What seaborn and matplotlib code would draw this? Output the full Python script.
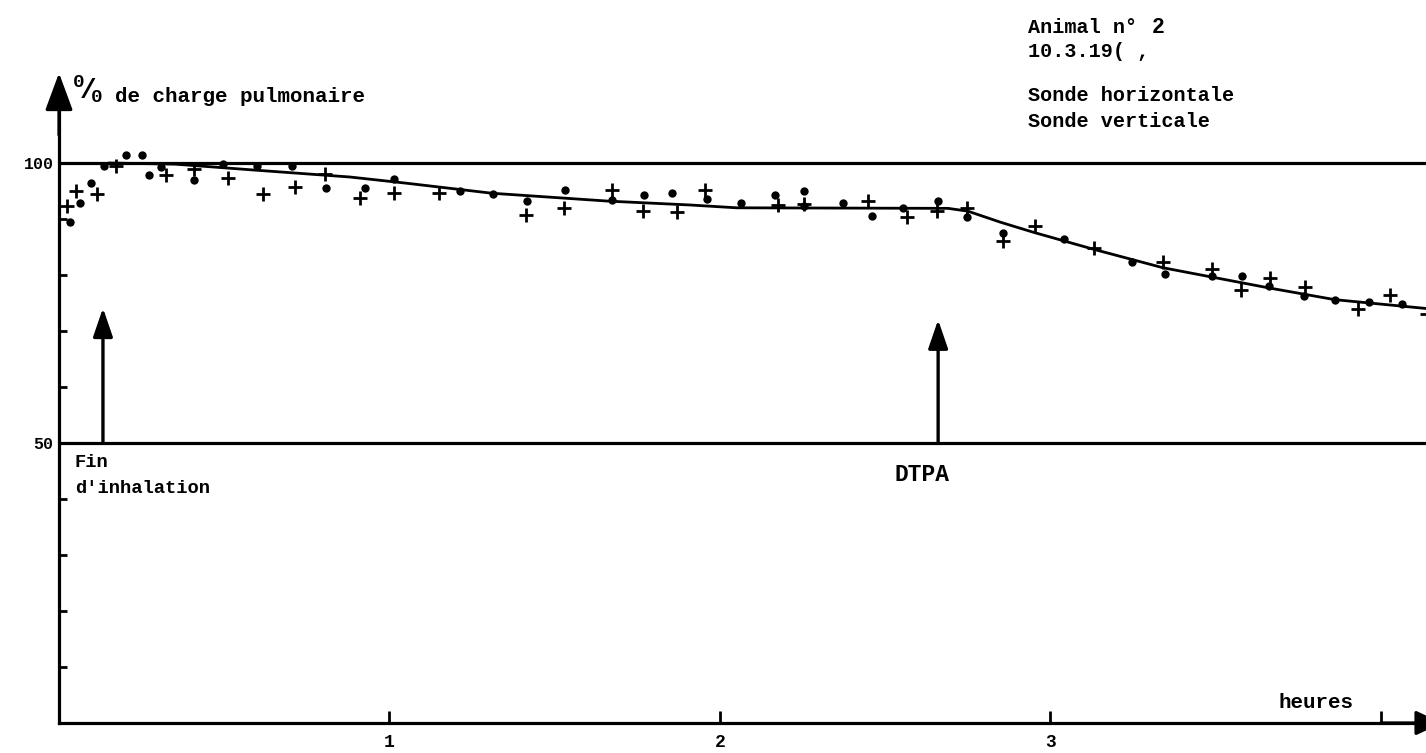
import matplotlib
matplotlib.use("Agg")
import matplotlib.pyplot as plt
import seaborn as sns

# ---------------- data ----------------
# dots : first probe series
horiz_t = [0.032, 0.064, 0.096, 0.136, 0.202, 0.250, 0.273, 0.310, 0.407, 0.497,
           0.600, 0.705, 0.808, 0.927, 1.013, 1.214, 1.313, 1.417, 1.532, 1.672,
           1.770, 1.855, 1.960, 2.063, 2.167, 2.255, 2.255, 2.371, 2.460, 2.555,
           2.659, 2.747, 2.857, 3.041, 3.247, 3.345, 3.488, 3.579, 3.660, 3.766,
           3.862, 3.963, 4.064]
horiz_pct = [89.5, 92.9, 96.4, 99.5, 101.5, 101.4, 97.9, 99.3, 96.9, 99.9,
             99.5, 99.5, 95.5, 95.6, 97.1, 95.0, 94.5, 93.3, 95.1, 93.4,
             94.2, 94.7, 93.5, 92.9, 94.2, 95.0, 92.3, 92.9, 90.5, 92.0,
             93.2, 90.3, 87.5, 86.4, 82.4, 80.2, 79.8, 79.8, 78.0, 76.3,
             75.5, 75.1, 74.9]

# crosses : second probe series
vert_t = [0.025, 0.050, 0.116, 0.172, 0.323, 0.407, 0.512, 0.616, 0.715, 0.804,
          0.911, 1.015, 1.149, 1.414, 1.527, 1.672, 1.766, 1.871, 1.955, 2.174,
          2.255, 2.447, 2.566, 2.657, 2.747, 2.857, 2.953, 3.131, 3.341, 3.488,
          3.576, 3.663, 3.771, 3.930, 4.028, 4.139]
vert_pct = [92.3, 95.0, 94.4, 99.5, 97.8, 98.9, 97.3, 94.4, 95.7, 98.1,
            93.7, 94.6, 94.7, 90.8, 92.0, 95.2, 91.4, 91.3, 95.1, 92.5,
            92.6, 93.3, 90.4, 91.4, 91.9, 86.0, 88.8, 84.8, 82.4, 81.0,
            77.4, 79.5, 77.9, 73.9, 76.4, 73.1]

# hand-drawn mean curve
fit_t = [0.15, 0.35, 0.60, 0.88, 1.05, 1.31, 1.66, 1.91, 2.05, 2.69,
         2.75, 2.85, 2.95, 3.13, 3.34, 3.66, 3.86, 4.14]
fit_pct = [100.0, 99.8, 98.7, 97.5, 96.4, 94.6, 93.2, 92.5, 92.0, 91.9,
           91.4, 89.4, 87.6, 84.6, 81.3, 77.7, 75.6, 74.0]

ref_levels = [50, 100]
x_ticks = [1, 2, 3, 4]
x_tick_labels = ["1", "2", "3", ""]
y_ticks = [10, 20, 30, 40, 50, 60, 70, 80, 90, 100]
y_tick_labels = ["", "", "", "", "50", "", "", "", "", "100"]

event_t = [0.133, 2.66]
event_tip = [74.1, 72.0]

# ---------------- style ----------------
sns.set_theme(style="white")
plt.rcParams['font.family'] = ['Liberation Mono', 'DejaVu Sans Mono']
plt.rcParams['mathtext.fontset'] = 'custom'
plt.rcParams['mathtext.rm'] = 'Liberation Mono:bold'
plt.rcParams['mathtext.it'] = 'Liberation Mono:bold'
plt.rcParams['mathtext.bf'] = 'Liberation Mono:bold'

W, H = 1426, 753
X0, XS = 59.0, 330.5      # pixel of t=0, pixels per hour
Y0, YS = 723.0, 5.6       # pixel of 0 %, pixels per %

fig = plt.figure(figsize=(W / 100, H / 100), dpi=100)
fig.patch.set_facecolor("white")
ax = fig.add_axes([0, 0, 1, 1])
ax.set_facecolor("white")
xmax = (W - X0) / XS
ax.set_xlim(-X0 / XS, xmax)
ax.set_ylim(-(H - Y0) / YS, Y0 / YS)

ink = "black"

# reference lines at 50 and 100 %
ax.hlines(ref_levels, 0, xmax, colors=ink, lw=2.3, zorder=2)

# curve and points
sns.lineplot(x=fit_t, y=fit_pct, color=ink, lw=2.0, ax=ax, sort=False,
             estimator=None, zorder=3)
sns.scatterplot(x=horiz_t, y=horiz_pct, marker="o", s=36, color=ink,
                edgecolor=ink, linewidth=0, ax=ax, zorder=4)
sns.scatterplot(x=vert_t, y=vert_pct, marker="+", s=100, color=ink,
                linewidth=2.0, ax=ax, zorder=4)

# axes
for s in ["top", "right"]:
    ax.spines[s].set_visible(False)
for s in ["left", "bottom"]:
    ax.spines[s].set_visible(True)
    ax.spines[s].set_color(ink)
    ax.spines[s].set_linewidth(2.3)
    ax.spines[s].set_position(("data", 0))
ax.spines["left"].set_bounds(0, 111)
ax.spines["bottom"].set_bounds(0, xmax)

ax.set_xticks(x_ticks)
ax.set_xticklabels(x_tick_labels)
ax.set_yticks(y_ticks)
ax.set_yticklabels(y_tick_labels)
ax.tick_params(axis="both", which="both", direction="in", colors=ink,
               width=2.0, left=True, bottom=True)
ax.tick_params(axis="x", length=9, pad=8, labelsize=13)
ax.tick_params(axis="y", length=6, pad=4, labelsize=12)
for lab in ax.get_xticklabels() + ax.get_yticklabels():
    lab.set_fontweight("bold")
ax.grid(False)

# axis arrowheads
ax.annotate("", xy=(0, (Y0 - 73) / YS), xytext=(0, 105),
            arrowprops=dict(arrowstyle="-|>,head_length=2.3,head_width=0.85",
                            color=ink, lw=2.3, shrinkA=0, shrinkB=0,
                            mutation_scale=10), annotation_clip=False)
ax.annotate("", xy=((1442 - X0) / XS, 0), xytext=(4.0, 0),
            arrowprops=dict(arrowstyle="-|>,head_length=1.6,head_width=0.75",
                            color=ink, lw=2.3, shrinkA=0, shrinkB=0,
                            mutation_scale=10), annotation_clip=False)

# event arrows
for t, tip in zip(event_t, event_tip):
    ax.annotate("", xy=(t, tip), xytext=(t, 50),
                arrowprops=dict(arrowstyle="-|>,head_length=1.75,head_width=0.6",
                                color=ink, lw=2.4, shrinkA=0, shrinkB=0,
                                mutation_scale=10), zorder=3)

# ---------------- texts ----------------
def ftext(xp, yp, s, size=14.5, weight="bold", va="baseline", ha="left", **kw):
    fig.text(xp / W, 1 - yp / H, s, fontsize=size, fontweight=weight,
             va=va, ha=ha, color=ink, **kw)

# y-axis title "0/0 de charge pulmonaire"
ftext(72, 89, r"$^{0}\!\!/\!\!_{0}$", size=20, va="center")
ftext(115, 102, "de charge pulmonaire", size=15)

# header
ftext(1028, 33, "Animal n° ")
ftext(1152, 33, "2", size=15.5)
ftext(1028, 57, "10.3.19( ,")
ftext(1028, 101, "Sonde horizontale")
ftext(1028, 127, "Sonde verticale")

# annotations
ftext(75, 467, "Fin", size=13.5)
ftext(75, 493, "d'inhalation", size=13.5)
ftext(895, 481, "DTPA", size=16.5)
ftext(1278, 708, "heures", size=15)

fig.savefig("out.png", dpi=100, facecolor="white")
